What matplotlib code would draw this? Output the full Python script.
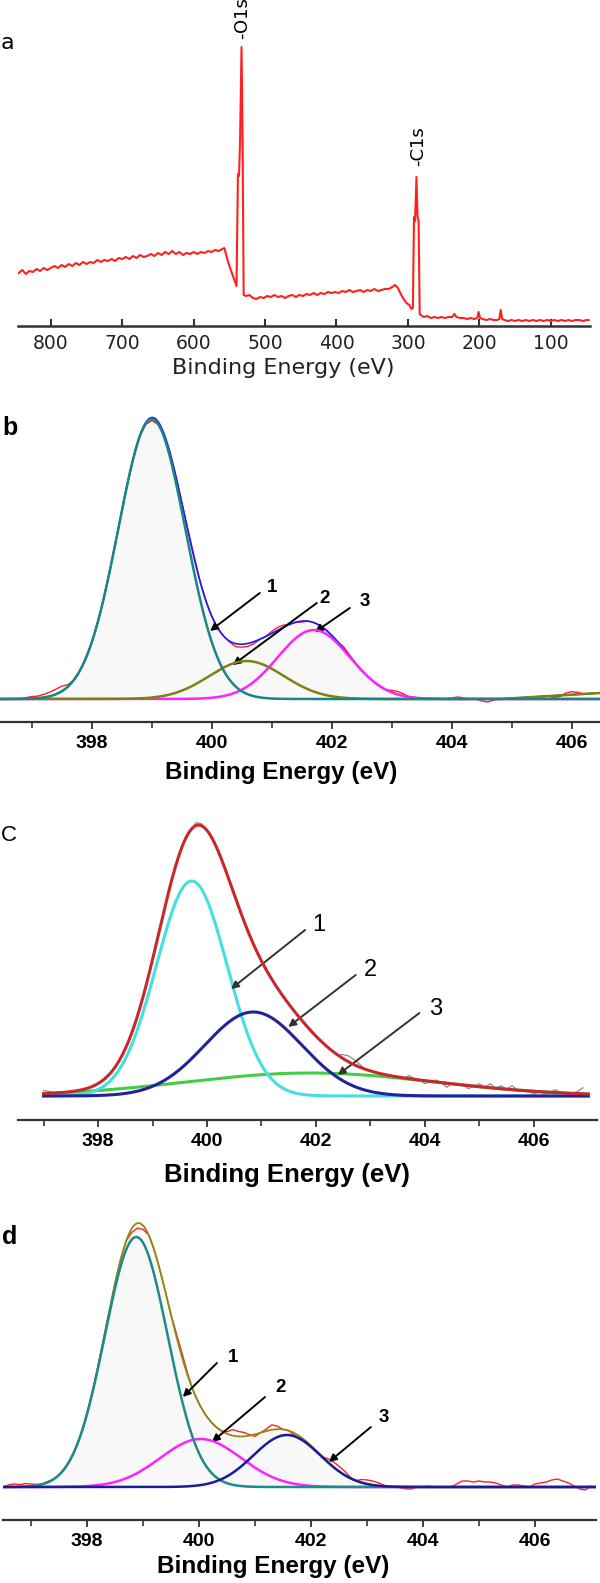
import numpy as np
import matplotlib
matplotlib.use("Agg")
from matplotlib import pyplot as plt

plt.rcParams['font.family'] = ['Liberation Sans', 'DejaVu Sans']

# ---- (a) survey spectrum (height above axis, px) ----
survey_be = [845, 840, 835, 830, 825, 820, 815, 810, 805, 800, 795, 790, 785, 780, 775, 770,
             765, 760, 755, 750, 745, 740, 735, 730, 725, 720, 715, 710, 705, 700, 695, 690,
             685, 680, 675, 670, 665, 660, 655, 650, 645, 640, 635, 630, 625, 620, 615, 610,
             605, 600, 595, 590, 585, 580, 575, 570, 565, 560, 557, 553, 549, 545, 542, 540,
             538, 536.5, 535, 533, 531.5, 530, 527, 522, 517, 512, 507, 502, 497, 492, 487,
             482, 477, 472, 467, 462, 457, 452, 447, 442, 437, 432, 427, 422, 417, 412, 407,
             402, 397, 392, 387, 382, 377, 372, 367, 362, 357, 352, 347, 342, 337, 332, 327,
             322, 318, 314, 310, 306, 302, 298, 295, 293, 291.5, 290, 288, 286.5, 285, 283.5,
             282, 278, 273, 268, 263, 258, 253, 248, 243, 238, 235, 232, 227, 222, 217, 212,
             207, 203, 201, 199, 195, 190, 185, 180, 175, 172, 170, 168, 165, 160, 155, 150,
             145, 140, 135, 130, 125, 120, 115, 110, 105, 100, 95, 90, 85, 80, 75, 70, 65, 60,
             55, 50, 47]
survey_counts = [53, 56, 52, 55, 54, 57, 55, 58, 56, 58, 60, 58, 61, 59, 62, 60,
                 63, 61, 64, 62, 64, 63, 66, 64, 66, 65, 67, 65, 68, 67, 69, 67,
                 70, 68, 71, 69, 70, 72, 70, 73, 71, 74, 72, 75, 72, 74, 71, 73,
                 72, 74, 72, 74, 73, 75, 74, 76, 75, 77, 78, 67, 58, 50, 44, 40,
                 152, 150, 186, 279, 184, 31, 30, 31, 28, 27, 29, 28, 30, 29, 31,
                 29, 30, 28, 30, 31, 29, 31, 30, 32, 31, 33, 31, 33, 32, 34, 33,
                 34, 33, 35, 34, 36, 34, 35, 36, 34, 36, 35, 37, 35, 36, 37, 37,
                 39, 41, 38, 32, 27, 23, 21, 17, 18, 109, 105, 149, 109, 105, 12,
                 11, 9, 10, 8, 9, 8, 9, 8, 9, 9, 12, 9, 8, 8, 7, 8,
                 7, 8, 14, 8, 7, 6, 7, 6, 6, 7, 16, 7, 6, 5, 6, 5,
                 6, 5, 6, 5, 6, 5, 6, 5, 6, 5, 6, 5, 6, 5, 6, 5, 6, 6,
                 5, 6, 6]
survey_labels = ["-O1s", "-C1s"]
survey_label_be = [532.5, 285.5]
survey_label_h = [287, 160]
survey_ticks = [800, 700, 600, 500, 400, 300, 200, 100]

# ---- (b) N1s fit: teal, olive, magenta ----
b_centers = [399.0, 400.58, 401.7]
b_heights = [280, 38, 69]
b_sigmas = [0.56, 0.62, 0.60]
b_bg_start, b_bg_slope = 404.8, 3.6
b_raw_dev = {396.9: 1, 397.0: 2, 397.1: 2, 397.2: 3, 397.3: 4, 397.4: 5, 397.5: 5, 397.6: 2,
             398.9: -2, 399.0: -3, 399.1: -3, 399.2: -2, 399.6: 1, 399.7: 2, 400.3: -1,
             400.4: -3, 400.5: -3, 400.6: -3, 400.7: -2, 401.0: 2, 401.1: 3, 401.2: 2,
             401.5: -1, 402.2: 2, 402.3: 1, 403.0: 2, 403.1: 3, 403.2: 2, 404.0: 1, 404.1: 2,
             404.2: 1, 404.5: -2, 404.6: -3, 404.7: -1, 405.7: -2, 405.8: -1, 405.9: 2,
             406.0: 3, 406.1: 2}
b_arrow_tip = [(399.97, 68), (400.35, 34), (401.72, 67)]
b_arrow_tail = [(400.8, 106), (401.75, 96), (402.3, 91)]
b_text_pos = [(401.0, 112), (401.88, 101), (402.55, 98)]

# ---- (c) N1s fit: cyan, navy, green ----
c_centers = [399.72, 400.85, 401.9]
c_heights = [215, 84, 23]
c_sigmas = [0.65, 0.89, 2.3]
c_raw_dev = {397.0: 3, 397.1: 2, 399.8: 3, 399.9: 2, 402.5: 4, 402.6: 6, 402.7: 5, 402.8: 3,
             403.6: -2, 403.7: 3, 403.8: 1, 404.0: -3, 404.2: 2, 404.4: -4, 404.6: 1,
             404.8: -3, 405.0: 3, 405.2: 4, 405.4: 3, 405.6: 4, 405.8: 1, 406.0: -3,
             406.2: -2, 406.4: 3, 406.6: -2, 406.8: 2, 406.9: 6}
c_arrow_tip = [(400.44, 107), (401.49, 69), (402.4, 21)]
c_arrow_tail = [(401.8, 166), (402.73, 121), (403.9, 83)]
c_text_pos = [(402.05, 171), (403.0, 126), (404.2, 87)]

# ---- (d) N1s fit: teal, magenta, navy ----
d_centers = [398.88, 400.03, 401.57]
d_heights = [250, 48, 52]
d_sigmas = [0.56, 0.72, 0.60]
d_raw_dev = {396.6: 2, 396.7: 3, 396.8: 2, 396.9: 3, 397.0: 2, 397.1: 1, 397.3: 1, 398.8: -4,
             398.9: -5, 399.0: -4, 399.6: 3, 399.7: 4, 399.8: 2, 400.5: 2, 400.6: 6, 400.7: 5,
             400.8: 4, 400.9: 1, 401.0: -2, 401.2: 2, 401.3: 5, 401.4: 3, 401.7: -2, 401.8: -3,
             402.3: 3, 402.4: 5, 402.5: 5, 402.6: 4, 402.7: 1, 402.9: 3, 403.0: 4, 403.1: 4,
             403.2: 3, 403.3: 1, 403.6: -1, 403.7: -2, 403.8: -2, 404.1: 1, 404.6: 3, 404.7: 6,
             404.8: 6, 404.9: 5, 405.0: 6, 405.1: 5, 405.2: 5, 405.3: 4, 405.4: 2, 405.6: 2,
             405.7: 2, 405.8: 1, 406.0: 3, 406.1: 4, 406.2: 5, 406.3: 7, 406.4: 8, 406.5: 6,
             406.6: 4, 406.7: 1, 406.8: -2, 406.9: -3, 407.0: 1}
d_arrow_tip = [(399.71, 90), (400.23, 45), (402.32, 25)]
d_arrow_tail = [(400.32, 124), (401.18, 90), (403.07, 60)]
d_text_pos = [(400.6, 130), (401.45, 100), (403.3, 69)]

W, H = 600, 1583
fig = plt.figure(figsize=(W / 100, H / 100), dpi=100)


def px_axes(x0, x1, top, bottom):
    return fig.add_axes([x0 / W, 1 - bottom / H, (x1 - x0) / W, (bottom - top) / H])


def gauss(x, c, h, s):
    return h * np.exp(-(x - c) ** 2 / (2 * s ** 2))


def style_axis(ax, lw=1.6):
    for s in ['left', 'right', 'top']:
        ax.spines[s].set_visible(False)
    ax.spines['bottom'].set_linewidth(lw)
    ax.spines['bottom'].set_color('#333333')
    ax.set_yticks([])
    ax.patch.set_alpha(0)


def nls_ticks(ax, size):
    ax.set_xticks([398, 400, 402, 404, 406])
    ax.set_xticks(np.arange(397, 407, 1), minor=True)
    ax.tick_params(axis='x', which='major', direction='out', length=5, width=1.3,
                   color='#333333', pad=4, labelsize=size)
    ax.tick_params(axis='x', which='minor', direction='out', length=4, width=1.2,
                   color='#333333')
    for t in ax.get_xticklabels():
        t.set_fontweight('bold')


def arrows(ax, tips, tails, texts, color, fsize, weight):
    for i in range(3):
        ax.annotate('', xy=tips[i], xytext=tails[i],
                    arrowprops=dict(arrowstyle='-|>', color=color, lw=1.4,
                                    mutation_scale=11, shrinkA=0, shrinkB=0))
        ax.text(texts[i][0], texts[i][1], str(i + 1), ha='center', va='center',
                fontsize=fsize, fontweight=weight, color='black')


def raw_from(xgrid, env_fn, dev):
    return np.array([env_fn(e) + dev.get(round(float(e), 1), 0) for e in xgrid])


# ---------------- panel a ----------------
ax = px_axes(18, 590, 30, 326)
style_axis(ax, 1.8)
ax.plot(survey_be, survey_counts, color='#ff2020', lw=1.5)
ax.set_xlim(846, 45)
ax.set_ylim(0, 296)
ax.set_xticks(survey_ticks)
ax.tick_params(axis='x', direction='in', length=5, width=1.5, color='#333333', pad=6)
for t in ax.get_xticklabels():
    t.set_family('DejaVu Sans')
    t.set_fontsize(13.5)
    t.set_color('#222222')
for lab, be, h in zip(survey_labels, survey_label_be, survey_label_h):
    ax.text(be, h, lab, rotation=90, ha='center', va='bottom', fontsize=13,
            family='DejaVu Sans', clip_on=False)
fig.text(283 / W, 1 - 368 / H, 'Binding Energy (eV)', ha='center', va='center',
         fontsize=16, family='DejaVu Sans', color='#222222')
fig.text(7 / W, 1 - 43 / H, 'a', ha='center', va='center', fontsize=16, family='DejaVu Sans')

# ---------------- panel b ----------------
ax = px_axes(0, 600, 400, 722)
style_axis(ax)
xb = np.linspace(396.47, 406.47, 1001)
bg_b = np.clip(xb - b_bg_start, 0, None) * b_bg_slope
comps_b = [gauss(xb, c, h, s) for c, h, s in zip(b_centers, b_heights, b_sigmas)]
env_b = comps_b[0] + comps_b[1] + comps_b[2] + bg_b


def env_b_at(e):
    return sum(gauss(e, c, h, s) for c, h, s in zip(b_centers, b_heights, b_sigmas)) + \
        max(e - b_bg_start, 0) * b_bg_slope


raw_xb = np.round(np.arange(396.5, 406.45, 0.1), 1)
ax.fill_between(xb, 0, env_b, color='#f8f8f8', lw=0, zorder=0)
ax.plot(raw_xb, raw_from(raw_xb, env_b_at, b_raw_dev), color='#ff2020', lw=1.0, zorder=2)
ax.plot(xb, env_b, color='#1a1aff', lw=1.2, zorder=3)
ax.plot(xb, comps_b[2], color='#ff22ff', lw=1.8, zorder=4)
ax.plot(xb, comps_b[1] + bg_b, color='#808012', lw=1.8, zorder=5)
ax.plot(xb, comps_b[0], color='#1a8585', lw=1.8, zorder=6)
ax.set_xlim(396.47, 406.47)
ax.set_ylim(-23, 299)
nls_ticks(ax, 14)
arrows(ax, b_arrow_tip, b_arrow_tail, b_text_pos, 'black', 13.5, 'bold')
fig.text(281 / W, 1 - 773 / H, 'Binding Energy (eV)', ha='center', va='center',
         fontsize=17.5, fontweight='bold')
fig.text(10 / W, 1 - 428 / H, 'b', ha='center', va='center', fontsize=18, fontweight='bold')

# ---------------- panel c ----------------
ax = px_axes(18, 597, 800, 1120)
style_axis(ax)
xc = np.linspace(397.0, 407.0, 1001)
comps_c = [gauss(xc, c, h, s) for c, h, s in zip(c_centers, c_heights, c_sigmas)]
env_c = comps_c[0] + comps_c[1] + comps_c[2]


def env_c_at(e):
    return sum(gauss(e, c, h, s) for c, h, s in zip(c_centers, c_heights, c_sigmas))


raw_xc = np.round(np.arange(397.0, 406.95, 0.1), 1)
ax.plot(raw_xc, raw_from(raw_xc, env_c_at, c_raw_dev), color='#8a8a8a', lw=0.9, zorder=1)
ax.plot(xc, comps_c[2], color='#44cc44', lw=2.2, zorder=2)
ax.plot(xc, comps_c[0], color='#44e0e0', lw=2.2, zorder=3)
ax.plot(xc, comps_c[1], color='#22229a', lw=2.2, zorder=4)
ax.plot(xc, env_c, color='#c8282a', lw=2.2, zorder=5)
ax.set_xlim(396.53, 407.16)
ax.set_ylim(-24, 296)
nls_ticks(ax, 14)
arrows(ax, c_arrow_tip, c_arrow_tail, c_text_pos, '#333333', 17, 'normal')
fig.text(287 / W, 1 - 1175 / H, 'Binding Energy (eV)', ha='center', va='center',
         fontsize=18.5, fontweight='bold')
fig.text(9 / W, 1 - 835 / H, 'C', ha='center', va='center', fontsize=16)

# ---------------- panel d ----------------
ax = px_axes(3, 596, 1200, 1520)
style_axis(ax)
xd = np.linspace(396.5, 407.09, 1060)
comps_d = [gauss(xd, c, h, s) for c, h, s in zip(d_centers, d_heights, d_sigmas)]
env_d = comps_d[0] + comps_d[1] + comps_d[2]


def env_d_at(e):
    return sum(gauss(e, c, h, s) for c, h, s in zip(d_centers, d_heights, d_sigmas))


raw_xd = np.round(np.arange(396.5, 407.05, 0.1), 1)
ax.fill_between(xd, 0, env_d, color='#f8f8f8', lw=0, zorder=0)
ax.plot(raw_xd, raw_from(raw_xd, env_d_at, d_raw_dev), color='#ff2020', lw=1.0, zorder=2)
ax.plot(xd, env_d, color='#8c8c14', lw=1.3, zorder=3)
ax.plot(xd, comps_d[1], color='#ff22ff', lw=1.8, zorder=4)
ax.plot(xd, comps_d[0], color='#1f8a8a', lw=1.8, zorder=5)
ax.plot(xd, comps_d[2], color='#1c1c96', lw=1.8, zorder=6)
ax.set_xlim(396.5, 407.09)
ax.set_ylim(-33, 287)
nls_ticks(ax, 14)
arrows(ax, d_arrow_tip, d_arrow_tail, d_text_pos, 'black', 13.5, 'bold')
fig.text(273 / W, 1 - 1566 / H, 'Binding Energy (eV)', ha='center', va='center',
         fontsize=17.5, fontweight='bold')
fig.text(10 / W, 1 - 1237 / H, 'd', ha='center', va='center', fontsize=18, fontweight='bold')

fig.savefig('out.png', dpi=100)
